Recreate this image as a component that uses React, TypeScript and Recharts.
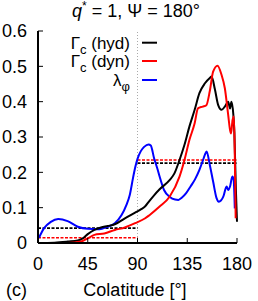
import { LineChart, Line, XAxis, YAxis, ReferenceLine } from "recharts";

// colatitude (deg) and values
const hydTheta = [0, 15, 27, 36, 40.5, 45, 51, 57, 63, 69.5, 78.6, 87.8, 93, 97, 100.5, 105, 110, 119, 123.4, 128, 132.5, 137, 141.7, 146, 151, 155.4, 157, 160, 163, 166, 169, 172, 173.7, 175, 176.7, 177.6, 179, 180];
const hydGamma = [0, 0.001, 0.004, 0.007, 0.013, 0.025, 0.037, 0.044, 0.048, 0.053, 0.07, 0.086, 0.095, 0.104, 0.118, 0.135, 0.152, 0.178, 0.197, 0.235, 0.278, 0.33, 0.377, 0.424, 0.452, 0.467, 0.471, 0.435, 0.39, 0.377, 0.386, 0.4, 0.381, 0.4, 0.363, 0.315, 0.15, 0.06];

const dynTheta = [0, 27, 39, 45, 51, 60, 69.5, 78.6, 87.8, 97, 100.5, 110, 119, 128, 132.5, 137, 141.7, 144.7, 149, 152.3, 155.4, 158.4, 162.4, 166, 169, 172, 173.7, 174.6, 176, 177.2, 178, 178.8];
const dynGamma = [0, 0, 0.004, 0.013, 0.023, 0.027, 0.037, 0.044, 0.056, 0.07, 0.078, 0.103, 0.131, 0.188, 0.235, 0.292, 0.339, 0.381, 0.386, 0.39, 0.43, 0.485, 0.502, 0.476, 0.438, 0.363, 0.32, 0.31, 0.348, 0.358, 0.25, 0.07];

const lamTheta = [0.9, 5.5, 11.6, 18.3, 26.8, 36, 45, 54, 63, 69.5, 75.6, 80, 83, 86, 88, 90, 93, 96, 100, 102, 105, 108, 110, 114, 119, 124, 127, 130, 134, 138, 142, 146, 149, 151, 152.5, 155.4, 158.4, 161.5, 163.6, 167.6, 170.6, 172, 173.7, 175.8, 177, 178];
const lamPhi = [0.015, 0.042, 0.06, 0.068, 0.062, 0.046, 0.04, 0.039, 0.046, 0.056, 0.079, 0.108, 0.136, 0.185, 0.215, 0.238, 0.26, 0.272, 0.279, 0.276, 0.24, 0.21, 0.188, 0.15, 0.131, 0.123, 0.122, 0.128, 0.141, 0.16, 0.18, 0.207, 0.232, 0.25, 0.259, 0.221, 0.174, 0.127, 0.117, 0.131, 0.16, 0.15, 0.16, 0.188, 0.178, 0.098];

// hemisphere averages (0-90, 90-180)
const meanBounds = [0, 90, 180];
const hydMean = [0.042, 0.226];
const dynMean = [0.015, 0.235];

const xTicks = [0, 45, 90, 135, 180];
const yTicks = [0, 0.1, 0.2, 0.3, 0.4, 0.5, 0.6];

const zip = (xs: number[], ys: number[]) => xs.map((t, i) => ({ t, v: ys[i] }));

const font = "'Liberation Sans', Arial, Helvetica, sans-serif";
const fs = 18;

const App = () => {
  const tickStyle = { fill: "#000", fontSize: fs, fontFamily: font };
  return (
    <div style={{ position: "absolute", left: 0, top: 0, width: 258, height: 301, background: "#fff" }}>
      <LineChart width={258} height={301} margin={{ top: 31, right: 21, bottom: 28, left: 0 }}>
        <XAxis
          xAxisId="b"
          dataKey="t"
          type="number"
          domain={[0, 180]}
          ticks={xTicks}
          allowDuplicatedCategory={false}
          height={30}
          tickSize={-5}
          tickMargin={19}
          tick={tickStyle}
          stroke="#000"
          axisLine={{ strokeWidth: 2 }}
        />
        <XAxis
          xAxisId="t"
          orientation="top"
          type="number"
          domain={[0, 180]}
          ticks={xTicks}
          height={0}
          tickSize={-5}
          tickFormatter={() => ""}
          stroke="#000"
          axisLine={{ strokeWidth: 2 }}
        />
        <YAxis
          yAxisId="l"
          type="number"
          domain={[0, 0.6]}
          ticks={yTicks}
          width={38}
          tickSize={-5}
          tickMargin={16}
          tick={tickStyle}
          stroke="#000"
          axisLine={{ strokeWidth: 2 }}
        />
        <YAxis
          yAxisId="r"
          orientation="right"
          type="number"
          domain={[0, 0.6]}
          ticks={yTicks}
          width={0}
          tickSize={-5}
          tickFormatter={() => ""}
          stroke="#000"
          axisLine={{ strokeWidth: 2 }}
        />
        <ReferenceLine xAxisId="b" yAxisId="l" x={90} stroke="#aaa" strokeDasharray="1 2" />
        {hydMean.map((m, i) => (
          <ReferenceLine
            key={"h" + i}
            xAxisId="b"
            yAxisId="l"
            segment={[{ x: meanBounds[i], y: m }, { x: meanBounds[i + 1], y: m }]}
            stroke="#000"
            strokeWidth={1.6}
            strokeDasharray="3 1.5"
          />
        ))}
        {dynMean.map((m, i) => (
          <ReferenceLine
            key={"d" + i}
            xAxisId="b"
            yAxisId="l"
            segment={[{ x: meanBounds[i], y: m }, { x: meanBounds[i + 1], y: m }]}
            stroke="#f00"
            strokeWidth={1.6}
            strokeDasharray="3 1.5"
          />
        ))}
        <Line xAxisId="b" yAxisId="l" data={zip(lamTheta, lamPhi)} dataKey="v" type="monotone" stroke="#00f" strokeWidth={2} dot={false} isAnimationActive={false} />
        <Line xAxisId="b" yAxisId="l" data={zip(hydTheta, hydGamma)} dataKey="v" type="monotone" stroke="#000" strokeWidth={2} dot={false} isAnimationActive={false} />
        <Line xAxisId="b" yAxisId="l" data={zip(dynTheta, dynGamma)} dataKey="v" type="monotone" stroke="#f00" strokeWidth={2} dot={false} isAnimationActive={false} />
      </LineChart>
      <svg width={258} height={301} style={{ position: "absolute", left: 0, top: 0, pointerEvents: "none" }} fontFamily={font} fontSize={fs}>
        <text x={136} y={17} textAnchor="middle">
          <tspan fontStyle="italic">q</tspan>
          <tspan fontSize={12} dy={-7}>*</tspan>
          <tspan dy={7}> = 1, Ψ = 180°</tspan>
        </text>
        <g fontSize={17}>
          <text x={130} y={48.5} textAnchor="end">
            Γ<tspan fontSize={13} dy={5}>c</tspan>
            <tspan dy={-5}> (hyd)</tspan>
          </text>
          <text x={130} y={67} textAnchor="end">
            Γ<tspan fontSize={13} dy={5}>c</tspan>
            <tspan dy={-5}> (dyn)</tspan>
          </text>
          <text x={130} y={85.5} textAnchor="end">
            λ<tspan fontSize={13} dy={5}>φ</tspan>
          </text>
        </g>
        <line x1={142} x2={157} y1={42.7} y2={42.7} stroke="#000" strokeWidth={2} />
        <line x1={142} x2={157} y1={61} y2={61} stroke="#f00" strokeWidth={2} />
        <line x1={142} x2={157} y1={80} y2={80} stroke="#00f" strokeWidth={2} />
        <text x={6} y={296}>(c)</text>
        <text x={135} y={296} textAnchor="middle">Colatitude [°]</text>
      </svg>
    </div>
  );
};

export default App;
